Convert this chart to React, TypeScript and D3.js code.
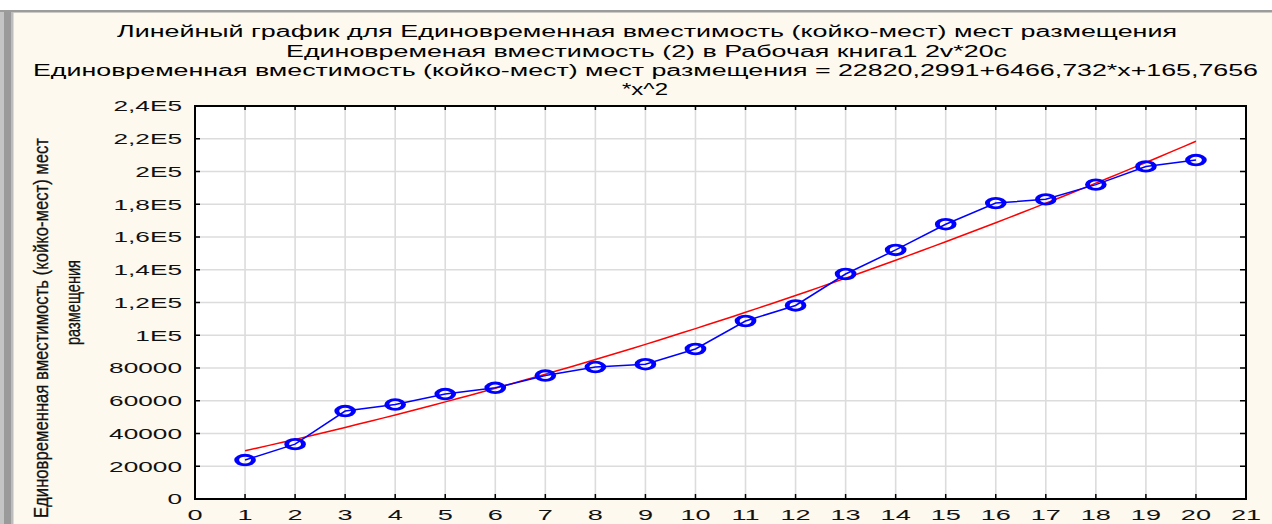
import React from "react";
import * as d3 from "d3";

// ---- data ----
const xValues = [1, 2, 3, 4, 5, 6, 7, 8, 9, 10, 11, 12, 13, 14, 15, 16, 17, 18, 19, 20];
const capacity = [
  23800, 33500, 53700, 57700, 64100, 67900, 75400, 80600, 82300, 91600,
  108700, 118200, 137400, 152100, 167800, 180700, 183000, 192000, 203100, 207000,
];
const fitIntercept = 22820.2991;
const fitLinear = 6466.732;
const fitQuad = 165.7656;

const xTickValues = [0, 1, 2, 3, 4, 5, 6, 7, 8, 9, 10, 11, 12, 13, 14, 15, 16, 17, 18, 19, 20, 21];
const yTickValues = [0, 20000, 40000, 60000, 80000, 100000, 120000, 140000, 160000, 180000, 200000, 220000, 240000];
const yTickLabels = ["0", "20000", "40000", "60000", "80000", "1E5", "1,2E5", "1,4E5", "1,6E5", "1,8E5", "2E5", "2,2E5", "2,4E5"];

const titleLines = [
  "Линейный график для Единовременная вместимость (койко-мест) мест размещения",
  "Единовременая вместимость (2) в Рабочая книга1 2v*20c",
  "Единовременная вместимость (койко-мест) мест размещения = 22820,2991+6466,732*x+165,7656",
  "*x^2",
];
const yLabelLines = ["Единовременная вместимость (койко-мест) мест", "размещения"];

// ---- layout ----
const W = 1272;
const H = 524;
const L = 195, R = 1246, T = 106, B = 499;
const FONT = "'Liberation Sans', Arial, sans-serif";
const SX = 1.75;

const titleLayout = [
  { x: 117, w: 1060, y: 37 },
  { x: 286, w: 721, y: 56.5 },
  { x: 33, w: 1225, y: 75.5 },
  { x: 622, w: 46, y: 94.5 },
];

export default function App() {
  const x = d3.scaleLinear().domain([0, 21]).range([L, R]);
  const y = d3.scaleLinear().domain([0, 240000]).range([B, T]);

  const dataLine = d3
    .line<number>()
    .x((_, i) => x(xValues[i]))
    .y((d) => y(d));

  const fitXs = d3.range(xValues[0], xValues[xValues.length - 1] + 0.001, 0.25);
  const fitLine = d3
    .line<number>()
    .x((d) => x(d))
    .y((d) => y(fitIntercept + fitLinear * d + fitQuad * d * d));

  return (
    <svg
      width={W}
      height={H}
      style={{ position: "fixed", left: 0, top: 0, display: "block" }}
      fontFamily={FONT}
    >
      <rect x={0} y={0} width={W} height={H} fill="#ffffff" />
      <rect x={0} y={12} width={W} height={H - 12} fill="#fdf9ef" />
      <rect x={0} y={10} width={W} height={2.5} fill="#9c9c9c" />
      <rect x={0} y={12} width={4} height={H} fill="#c4c4c4" />
      <rect x={4} y={12} width={7} height={H} fill="#9a9a9a" />
      <rect x={11} y={12} width={2.5} height={H} fill="#bdbdbd" />

      {/* title */}
      {titleLines.map((t, i) => (
        <text
          key={i}
          x={titleLayout[i].x}
          y={titleLayout[i].y}
          fontSize={16}
          fill="#000"
          textLength={titleLayout[i].w}
          lengthAdjust="spacingAndGlyphs"
        >
          {t}
        </text>
      ))}

      {/* plot background */}
      <rect x={L} y={T} width={R - L} height={B - T} fill="#ffffff" />

      {/* grid */}
      {xTickValues.slice(1, -1).map((v) => (
        <line key={"gx" + v} x1={x(v)} x2={x(v)} y1={T} y2={B} stroke="#dcdcdc" strokeWidth={1.6} />
      ))}
      {yTickValues.slice(1, -1).map((v) => (
        <line key={"gy" + v} x1={L} x2={R} y1={y(v)} y2={y(v)} stroke="#dcdcdc" strokeWidth={1.6} />
      ))}

      {/* ticks (inward) */}
      {xTickValues.slice(1, -1).map((v) => (
        <g key={"tx" + v}>
          <line x1={x(v)} x2={x(v)} y1={B} y2={B - 5} stroke="#000" strokeWidth={1.5} />
          <line x1={x(v)} x2={x(v)} y1={T} y2={T + 4} stroke="#000" strokeWidth={1.5} />
        </g>
      ))}
      {yTickValues.slice(1, -1).map((v) => (
        <g key={"ty" + v}>
          <line x1={L} x2={L + 5} y1={y(v)} y2={y(v)} stroke="#000" strokeWidth={1.5} />
          <line x1={R} x2={R - 6} y1={y(v)} y2={y(v)} stroke="#000" strokeWidth={1.5} />
        </g>
      ))}

      {/* frame */}
      <rect x={L} y={T} width={R - L} height={B - T} fill="none" stroke="#000" strokeWidth={2} />

      {/* fitted curve */}
      <path d={fitLine(fitXs) || ""} fill="none" stroke="#ff0000" strokeWidth={1.5} />

      {/* data line */}
      <path d={dataLine(capacity) || ""} fill="none" stroke="#0000ff" strokeWidth={1.5} />
      {capacity.map((v, i) => (
        <g key={"m" + i} transform={`translate(${x(xValues[i])},${y(v)}) scale(${SX},1)`}>
          <circle r={4.8} fill="none" stroke="#0000ff" strokeWidth={2.8} />
        </g>
      ))}

      {/* y tick labels */}
      {yTickValues.map((v, i) => (
        <g key={"yl" + v} transform={`translate(182,${y(v)}) scale(${SX},1)`}>
          <text textAnchor="end" dy="0.36em" fontSize={15} fill="#111">
            {yTickLabels[i]}
          </text>
        </g>
      ))}

      {/* x tick labels */}
      {xTickValues.map((v) => (
        <g key={"xl" + v} transform={`translate(${x(v)},520) scale(${SX},1)`}>
          <text textAnchor="middle" fontSize={15.5} fill="#111">
            {String(v)}
          </text>
        </g>
      ))}

      {/* y axis label */}
      <g transform={`translate(48,328) scale(1.3,1) rotate(-90)`}>
        <text textAnchor="middle" fontSize={16} fill="#111" stroke="#111" strokeWidth={0.25} textLength={380} lengthAdjust="spacingAndGlyphs">
          {yLabelLines[0]}
        </text>
      </g>
      <g transform={`translate(80,302.5) scale(1.3,1) rotate(-90)`}>
        <text textAnchor="middle" fontSize={16} fill="#111" stroke="#111" strokeWidth={0.25} textLength={85} lengthAdjust="spacingAndGlyphs">
          {yLabelLines[1]}
        </text>
      </g>
    </svg>
  );
}
